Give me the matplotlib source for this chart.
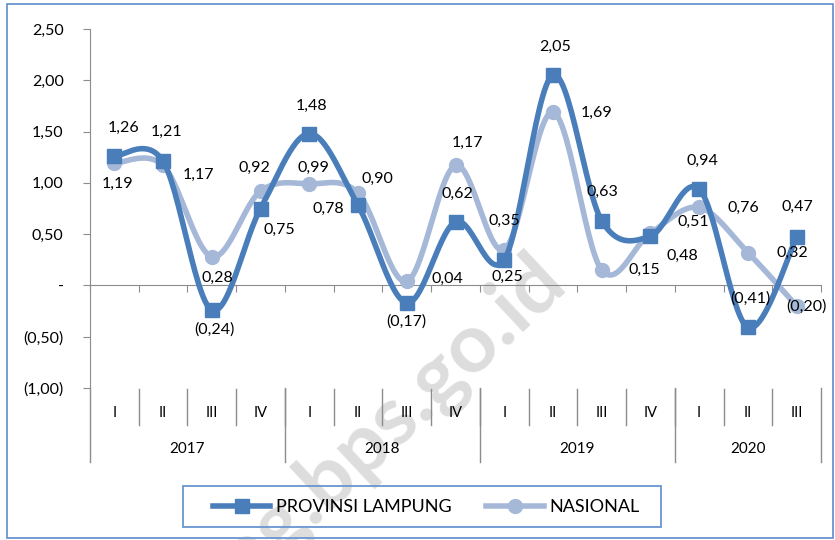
import numpy as np
import matplotlib
matplotlib.use("Agg")
import matplotlib.pyplot as plt
from matplotlib.lines import Line2D
from matplotlib.patches import Rectangle
from matplotlib.transforms import blended_transform_factory

plt.rcParams['font.family'] = ['Lato', 'DejaVu Sans']

years = ["2017", "2018", "2019", "2020"]
quarters_per_year = [4, 4, 4, 3]
quarter_labels = ["I", "II", "III", "IV", "I", "II", "III", "IV",
                  "I", "II", "III", "IV", "I", "II", "III"]

lampung = [1.26, 1.21, -0.24, 0.75, 1.48, 0.78, -0.17, 0.62,
           0.25, 2.05, 0.63, 0.48, 0.94, -0.41, 0.47]
nasional = [1.19, 1.17, 0.28, 0.92, 0.99, 0.90, 0.04, 1.17,
            0.35, 1.69, 0.15, 0.51, 0.76, 0.32, -0.20]

y_ticks = [-1.0, -0.5, 0.0, 0.5, 1.0, 1.5, 2.0, 2.5]

# label offsets in pixels (dx, dy), dy positive = up
lampung_offsets = [(9, 28), (3, 29), (3, -20), (19, -21), (2, 28), (-30, -3),
                   (0, -19), (2, 28), (3, -17), (2, 28), (1, 29), (32, -20),
                   (3, 28), (2, 29), (1, 30)]
nasional_offsets = [(3, -21), (35, -9), (6, -21), (-6, 23), (4, 16), (19, 14),
                    (41, 2), (12, 23), (0, 29), (44, -1), (43, 0), (43, 11),
                    (44, 0), (44, 0), (10, -1)]

DARK = "#4A7EBB"
LIGHT = "#A6B8D8"
GRID = "#8C8C8C"
FRAME = "#6A95CF"


def fmt(v):
    if abs(v) < 1e-9:
        return "-"
    s = f"{abs(v):.2f}".replace(".", ",")
    return f"({s})" if v < 0 else s


def smooth(y, steps=30):
    # cubic bezier through each point, like a spreadsheet "smoothed line"
    pts = np.column_stack([np.arange(len(y)), np.asarray(y, float)])
    out = []
    n = len(pts)
    for i in range(n - 1):
        p0 = pts[max(i - 1, 0)]
        p1 = pts[i]
        p2 = pts[i + 1]
        p3 = pts[min(i + 2, n - 1)]
        c1 = p1 + (p2 - p0) / 6
        c2 = p2 - (p3 - p1) / 6
        t = np.linspace(0, 1, steps)[:, None]
        seg = ((1 - t) ** 3 * p1 + 3 * (1 - t) ** 2 * t * c1
               + 3 * (1 - t) * t ** 2 * c2 + t ** 3 * p2)
        out.append(seg if i == 0 else seg[1:])
    seg = np.vstack(out)
    return seg[:, 0], seg[:, 1]


W, H = 835, 540
fig = plt.figure(figsize=(W / 100, H / 100), dpi=100)


def px_box(x0, y0, x1, y1):
    return Rectangle((x0 / W, 1 - y1 / H), (x1 - x0) / W, (y1 - y0) / H,
                     transform=fig.transFigure, fill=False,
                     edgecolor=FRAME, linewidth=1.3)


# outer chart border and legend frame
fig.patches.append(px_box(7, 4, 833, 538))
fig.patches.append(px_box(183, 486, 661, 527))

ax = fig.add_axes([90 / W, 1 - 388 / H, 731 / W, 359 / H])
ax.patch.set_alpha(0)
ax.set_xlim(-0.5, len(lampung) - 0.5)
ax.set_ylim(-1.0, 2.5)

for s in ["top", "right"]:
    ax.spines[s].set_visible(False)
ax.spines["left"].set_color(GRID)
ax.spines["bottom"].set_color(GRID)
ax.spines["bottom"].set_position(("data", 0))

ax.set_yticks(y_ticks)
ax.set_yticklabels([fmt(v) for v in y_ticks], fontsize=11.5)
ax.tick_params(axis="y", length=5, color=GRID, pad=14)
ax.set_xticks(np.arange(len(lampung) + 1) - 0.5)
ax.set_xticklabels([])
ax.tick_params(axis="x", length=5, color=GRID, direction="out")

# watermark
ax.text(568 / W, 1 - 284 / H, "lampung.bps.go.id", transform=fig.transFigure,
        rotation=43, rotation_mode="anchor", ha="right", va="baseline",
        fontsize=60, fontweight="bold", color="#DDDDDD", zorder=1,
        clip_on=False)

x = np.arange(len(lampung))
xs, ys = smooth(nasional)
ax.plot(xs, ys, color=LIGHT, lw=4, solid_capstyle="round", zorder=3)
ax.plot(x, nasional, "o", color=LIGHT, ms=10, zorder=3)
xs, ys = smooth(lampung)
ax.plot(xs, ys, color=DARK, lw=4, solid_capstyle="round", zorder=4)
ax.plot(x, lampung, "s", color=DARK, ms=9.5, zorder=4)

for xi, v, (dx, dy) in zip(x, lampung, lampung_offsets):
    ax.annotate(fmt(v), (xi, v), xytext=(dx, dy), textcoords="offset pixels",
                ha="center", va="center", fontsize=11.5, zorder=6)
for xi, v, (dx, dy) in zip(x, nasional, nasional_offsets):
    ax.annotate(fmt(v), (xi, v), xytext=(dx, dy), textcoords="offset pixels",
                ha="center", va="center", fontsize=11.5, zorder=6)

# two-level category axis
tr = blended_transform_factory(ax.transData, fig.transFigure)
for i, q in enumerate(quarter_labels):
    ax.text(i, 1 - 413 / H, q, transform=tr, ha="center", va="center",
            fontsize=10.5)
for b in range(1, len(quarter_labels)):
    ax.plot([b - 0.5, b - 0.5], [1 - 389 / H, 1 - 425 / H], transform=tr,
            color=GRID, lw=1, clip_on=False)
start = 0
edges = [0]
for yr, nq in zip(years, quarters_per_year):
    ax.text(start + nq / 2 - 0.5, 1 - 449 / H, yr, transform=tr,
            ha="center", va="center", fontsize=11)
    start += nq
    edges.append(start)
for e in edges:
    ax.plot([e - 0.5, e - 0.5], [1 - 388 / H, 1 - 462 / H], transform=tr,
            color=GRID, lw=1, clip_on=False)

handles = [
    Line2D([], [], color=DARK, lw=4, marker="s", ms=9.5),
    Line2D([], [], color=LIGHT, lw=4, marker="o", ms=10),
]
fig.legend(handles, ["PROVINSI LAMPUNG", "NASIONAL"], loc="center",
           bbox_to_anchor=(426 / W, 1 - 507 / H), ncol=2, fontsize=13,
           handlelength=3.2, handletextpad=0.3, columnspacing=1.9,
           borderaxespad=0, frameon=False, numpoints=1)

fig.savefig("out.png", dpi=100)
